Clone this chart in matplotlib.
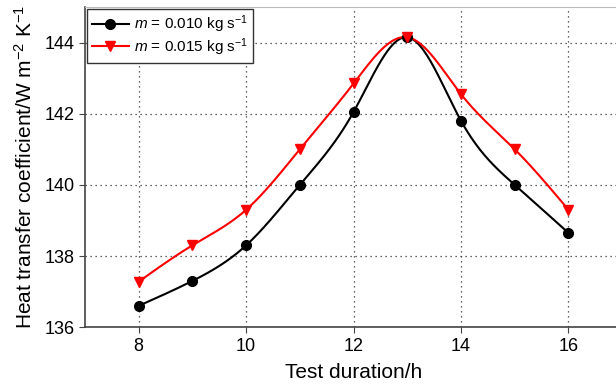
import numpy as np
import matplotlib
matplotlib.use("Agg")
import matplotlib.pyplot as plt

plt.rcParams['font.family'] = ['Liberation Sans', 'DejaVu Sans']
plt.rcParams['mathtext.fontset'] = 'custom'
plt.rcParams['mathtext.it'] = 'Liberation Sans:italic'
plt.rcParams['mathtext.rm'] = 'Liberation Sans'

# data
hours = [8, 9, 10, 11, 12, 13, 14, 15, 16]
htc_010 = [136.6, 137.3, 138.3, 140.0, 142.05, 144.15, 141.8, 140.0, 138.65]
htc_015 = [137.28, 138.3, 139.3, 141.0, 142.85, 144.15, 142.55, 141.0, 139.3]

labels = [r'$m$ = 0.010 kg s$^{-1}$', r'$m$ = 0.015 kg s$^{-1}$']


def natural_spline(x, y, n=400):
    # smooth connecting line through the points (natural cubic spline)
    x = np.asarray(x, float)
    y = np.asarray(y, float)
    k = len(x)
    h = np.diff(x)
    A = np.zeros((k, k))
    r = np.zeros(k)
    A[0, 0] = A[-1, -1] = 1
    for i in range(1, k - 1):
        A[i, i - 1] = h[i - 1]
        A[i, i] = 2 * (h[i - 1] + h[i])
        A[i, i + 1] = h[i]
        r[i] = 3 * ((y[i + 1] - y[i]) / h[i] - (y[i] - y[i - 1]) / h[i - 1])
    c = np.linalg.solve(A, r)
    xs = np.linspace(x[0], x[-1], n)
    idx = np.clip(np.searchsorted(x, xs) - 1, 0, k - 2)
    b = (y[1:] - y[:-1]) / h - h * (2 * c[:-1] + c[1:]) / 3
    d = (c[1:] - c[:-1]) / (3 * h)
    t = xs - x[idx]
    ys = y[idx] + b[idx] * t + c[idx] * t ** 2 + d[idx] * t ** 3
    return xs, ys


fig = plt.figure(figsize=(6.16, 3.89), dpi=100)
ax = fig.add_axes([0.138, 0.159, 0.872, 0.823])

xs, ys = natural_spline(hours, htc_010)
ax.plot(xs, ys, color='black', lw=1.5, zorder=3)
ax.plot(hours, htc_010, 'o', color='black', ms=7, zorder=4)
xs, ys = natural_spline(hours, htc_015)
ax.plot(xs, ys, color='red', lw=1.5, zorder=3)
ax.plot(hours, htc_015, 'v', color='red', ms=7, zorder=4)

# legend proxies
h1, = ax.plot([], [], '-o', color='black', lw=1.5, ms=7)
h2, = ax.plot([], [], '-v', color='red', lw=1.5, ms=7)
leg = ax.legend([h1, h2], labels, loc='upper left', fontsize=11,
                fancybox=False, framealpha=1, edgecolor='#333333',
                borderaxespad=0.1, handlelength=2.4, handletextpad=0.35,
                borderpad=0.35, labelspacing=0.05)
leg.get_frame().set_linewidth(1.0)

ax.set_xlim(7, 17)
ax.set_ylim(136, 145)
ax.set_xticks([8, 10, 12, 14, 16])
ax.set_yticks([136, 138, 140, 142, 144])
ax.grid(True, linestyle=(0, (1, 3)), color='#333333', lw=0.9)
ax.tick_params(labelsize=13, direction='out', length=4, color='#444444')

ax.spines['top'].set_color('#bbbbbb')
ax.spines['right'].set_visible(False)
ax.spines['left'].set_color('#444444')
ax.spines['bottom'].set_color('#444444')
ax.spines['left'].set_linewidth(1.2)
ax.spines['bottom'].set_linewidth(1.2)

ax.set_xlabel('Test duration/h', fontsize=15, labelpad=6)
ax.set_ylabel(r'Heat transfer coefficient/W m$^{-2}$ K$^{-1}$', fontsize=15, labelpad=6)

fig.savefig('out.png', dpi=100)
